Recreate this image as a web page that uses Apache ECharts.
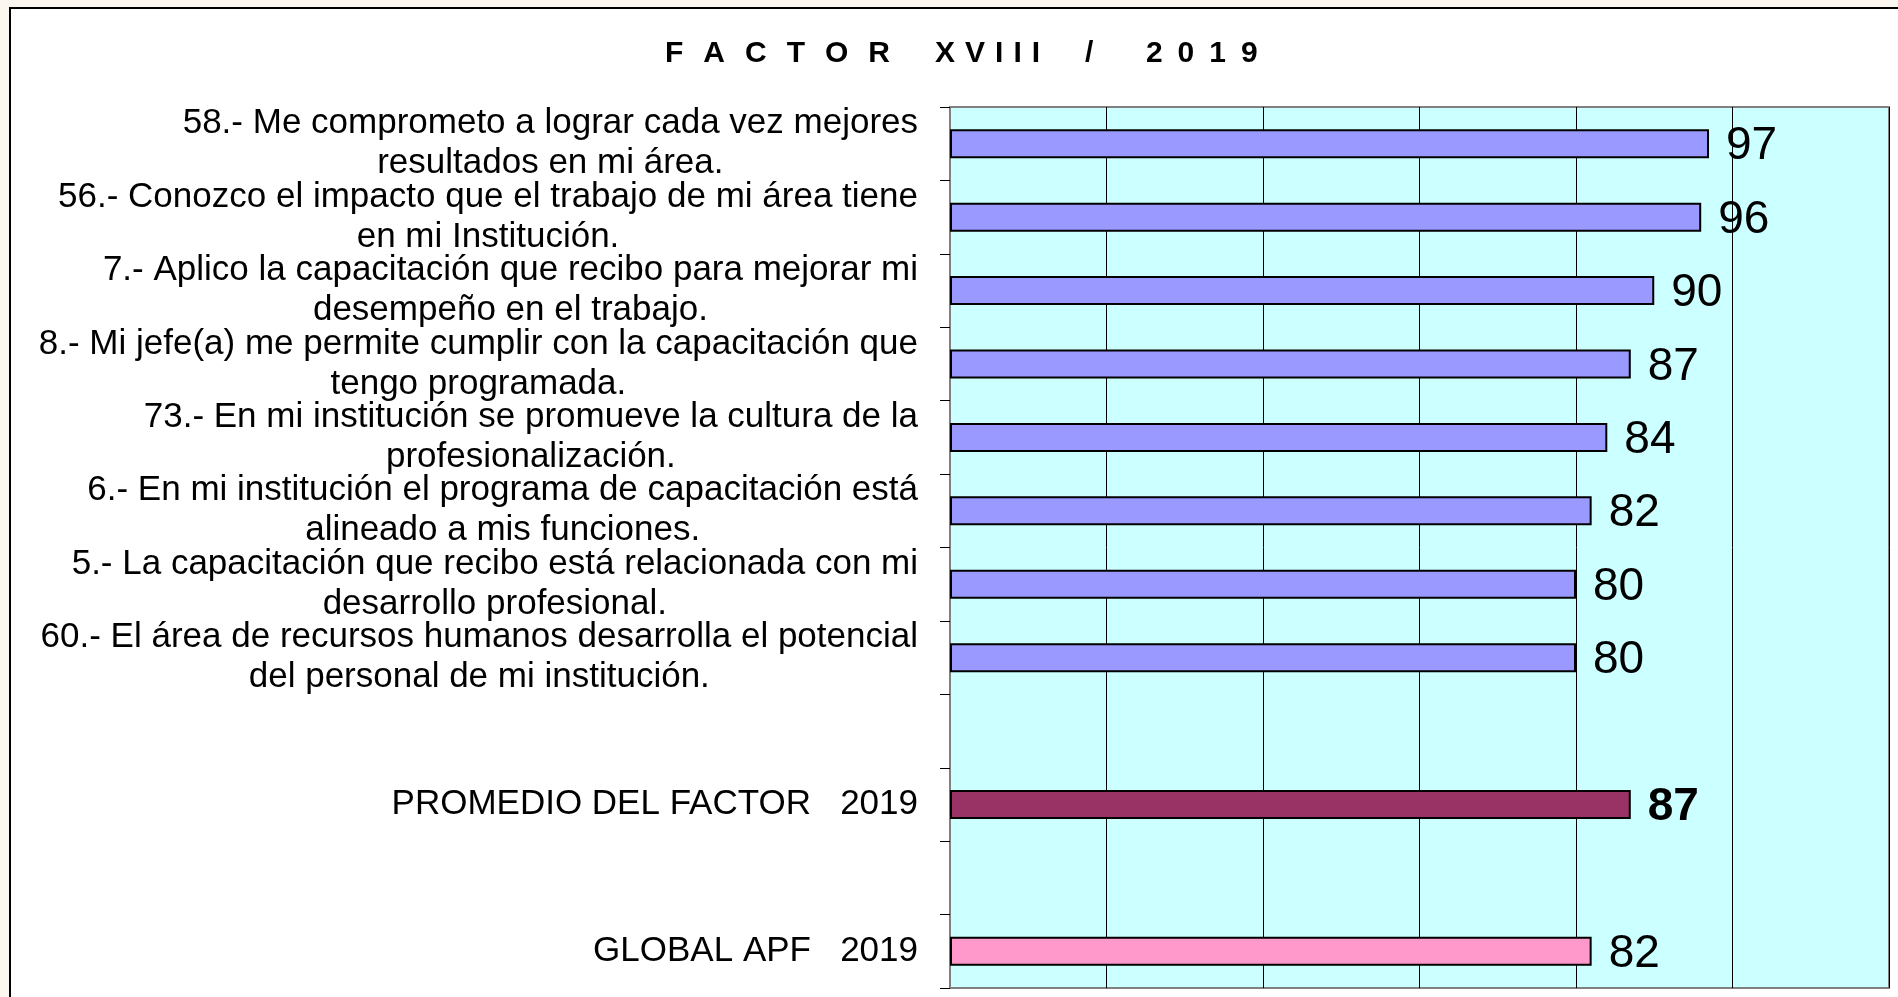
<!DOCTYPE html>
<html>
<head>
<meta charset="utf-8">
<script src="https://cdn.jsdelivr.net/npm/echarts@6/dist/echarts.min.js"></script>
<style>
  html, body { margin: 0; padding: 0; background: #fbf6ef; }
  #chart { width: 1898px; height: 997px; }
</style>
</head>
<body>
<div id="chart"></div>
<script>
// ---- DATA ----
const G = '\u2004\u2004';           // gap between F A C T O R letters
const g = '\u2004';                 // gap between roman numerals
const d = '\u2004\u2006';           // gap between digits
const W = '\u2003\u2002';           // wide gap
const titleText = ['F','A','C','T','O','R'].join(G) + W +
  ['X','V','I','I','I'].join(g) + W + '/' + W + '\u2005' + ['2','0','1','9'].join(d);
const questionLabels = [
  '58.- Me comprometo a lograr cada vez mejores\nresultados en mi área.',
  '56.- Conozco el impacto que el trabajo de mi área tiene\nen mi Institución.',
  '7.- Aplico la capacitación que recibo para mejorar mi\ndesempeño en el trabajo.',
  '8.- Mi jefe(a) me permite cumplir con la capacitación que\ntengo programada.',
  '73.- En mi institución se promueve la cultura de la\nprofesionalización.',
  '6.- En mi institución el programa de capacitación está\nalineado a mis funciones.',
  '5.- La capacitación que recibo está relacionada con mi\ndesarrollo profesional.',
  '60.- El área de recursos humanos desarrolla el potencial\ndel personal de mi institución.'
];
const questionValues = [97, 96, 90, 87, 84, 82, 80, 80];
const factorLabel = 'PROMEDIO DEL FACTOR   2019';
const factorValue = 87;
const globalLabel = 'GLOBAL APF   2019';
const globalValue = 82;
const axisMin = 0, axisMax = 120, axisStep = 20;

// ---- BUILD ----
const FONT = '"Liberation Sans", Arial, sans-serif';
const categories = questionLabels.concat([' ', factorLabel, '  ', globalLabel]);
const seriesData = questionValues.map(v => ({ value: v }))
  .concat([
    { value: null },
    { value: factorValue, itemStyle: { color: '#993366' }, label: { fontWeight: 'bold' } },
    { value: null },
    { value: globalValue, itemStyle: { color: '#ff99cc' } }
  ]);

const chart = echarts.init(document.getElementById('chart'), null, { renderer: 'canvas' });
chart.setOption({
  animation: false,
  backgroundColor: 'transparent',
  graphic: [{
    type: 'rect', z: -10, silent: true,
    shape: { x: 10, y: 8, width: 1950, height: 1050 },
    style: { fill: '#ffffff', stroke: '#000000', lineWidth: 2 }
  }],
  title: {
    text: titleText,
    left: 660,
    top: 34,
    textStyle: { fontFamily: FONT, fontSize: 30, fontWeight: 'bold', color: '#000' }
  },
  grid: {
    left: 950, right: 9, top: 107, bottom: 9,
    show: true, backgroundColor: '#ccffff', borderColor: '#808080', borderWidth: 2
  },
  xAxis: {
    type: 'value', min: axisMin, max: axisMax, interval: axisStep,
    axisLabel: { show: false }, axisTick: { show: false }, axisLine: { show: false },
    splitLine: { show: true, lineStyle: { color: '#000', width: 1 } }
  },
  yAxis: {
    type: 'category', inverse: true, data: categories,
    axisLine: { show: true, lineStyle: { color: '#808080', width: 2 } },
    axisTick: { show: true, length: 10, inside: false, lineStyle: { color: '#000', width: 1 } },
    axisLabel: {
      interval: 0, margin: 32, align: 'right', color: '#000',
      fontFamily: FONT, fontSize: 35,
      formatter: function (v) {
        return v.split('\n').map(s => '{c|' + s + '}').join('\n');
      },
      rich: { c: { fontFamily: FONT, fontSize: 35, lineHeight: 40, align: 'center', color: '#000' } }
    }
  },
  series: [{
    type: 'bar',
    data: seriesData,
    barWidth: 29,
    itemStyle: { color: '#9999ff', borderColor: '#000', borderWidth: 2 },
    label: {
      show: true, position: 'right', distance: 17, color: '#000', offset: [0, 3],
      fontFamily: FONT, fontSize: 46
    }
  }]
});
</script>
</body>
</html>
